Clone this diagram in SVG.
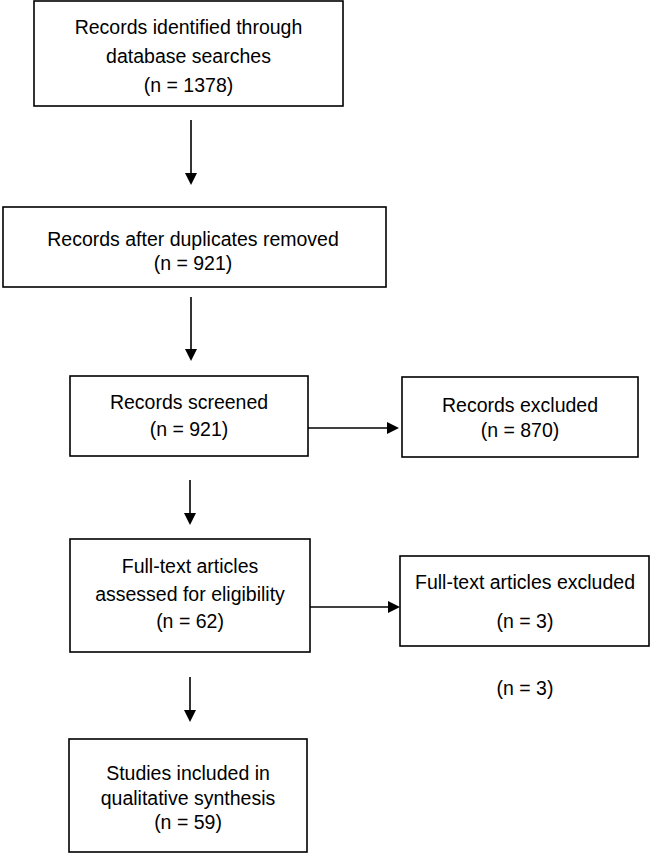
<svg xmlns="http://www.w3.org/2000/svg" width="651" height="855" viewBox="0 0 651 855">
<style>
.box{fill:#fff;stroke:#000;stroke-width:1.6}
text{font-family:"Liberation Sans",Arial,sans-serif;font-size:19.5px;fill:#000;text-anchor:middle}
.c{stroke:#000;stroke-width:1.6;fill:none}
.h{fill:#000}
</style>
<rect width="651" height="855" fill="#fff"/>
<g id="connectors">
<line class="c" x1="191" y1="120" x2="191" y2="174"/>
<path class="h" d="M185,173 L197,173 L191,185 z"/>
<line class="c" x1="191" y1="297" x2="191" y2="350"/>
<path class="h" d="M185,349 L197,349 L191,361 z"/>
<line class="c" x1="308" y1="428" x2="388" y2="428"/>
<path class="h" d="M387,422 L387,434 L399,428 z"/>
<line class="c" x1="190" y1="480" x2="190" y2="514"/>
<path class="h" d="M184,513 L196,513 L190,525 z"/>
<line class="c" x1="310" y1="607" x2="389" y2="607"/>
<path class="h" d="M388,601 L388,613 L400,607 z"/>
<line class="c" x1="190" y1="677" x2="190" y2="711"/>
<path class="h" d="M184,710 L196,710 L190,722 z"/>
</g>
<g id="n1">
<rect class="box" x="34" y="1" width="309" height="105"/>
<text x="188.5" y="34">Records identified through</text>
<text x="188.5" y="63">database searches</text>
<text x="188.5" y="92">(n = 1378)</text>
</g>
<g id="n2">
<rect class="box" x="3" y="207" width="383" height="80"/>
<text x="193" y="246">Records after duplicates removed</text>
<text x="193" y="270">(n = 921)</text>
</g>
<g id="n3">
<rect class="box" x="70" y="376" width="238" height="80"/>
<text x="189" y="409">Records screened</text>
<text x="189" y="436">(n = 921)</text>
</g>
<g id="n4">
<rect class="box" x="402" y="377" width="236" height="80"/>
<text x="520" y="412">Records excluded</text>
<text x="520" y="437">(n = 870)</text>
</g>
<g id="n5">
<rect class="box" x="70" y="539" width="240" height="113"/>
<text x="190" y="573">Full-text articles</text>
<text x="190" y="601">assessed for eligibility</text>
<text x="190" y="628">(n = 62)</text>
</g>
<g id="n6">
<rect class="box" x="400" y="556" width="249" height="90"/>
<text x="525" y="589">Full-text articles excluded</text>
<text x="525" y="628">(n = 3)</text>
</g>
<g id="n7">
<text x="525" y="695">(n = 3)</text>
</g>
<g id="n8">
<rect class="box" x="69" y="739" width="238" height="113"/>
<text x="188" y="780">Studies included in</text>
<text x="188" y="805">qualitative synthesis</text>
<text x="188" y="829">(n = 59)</text>
</g>
</svg>
